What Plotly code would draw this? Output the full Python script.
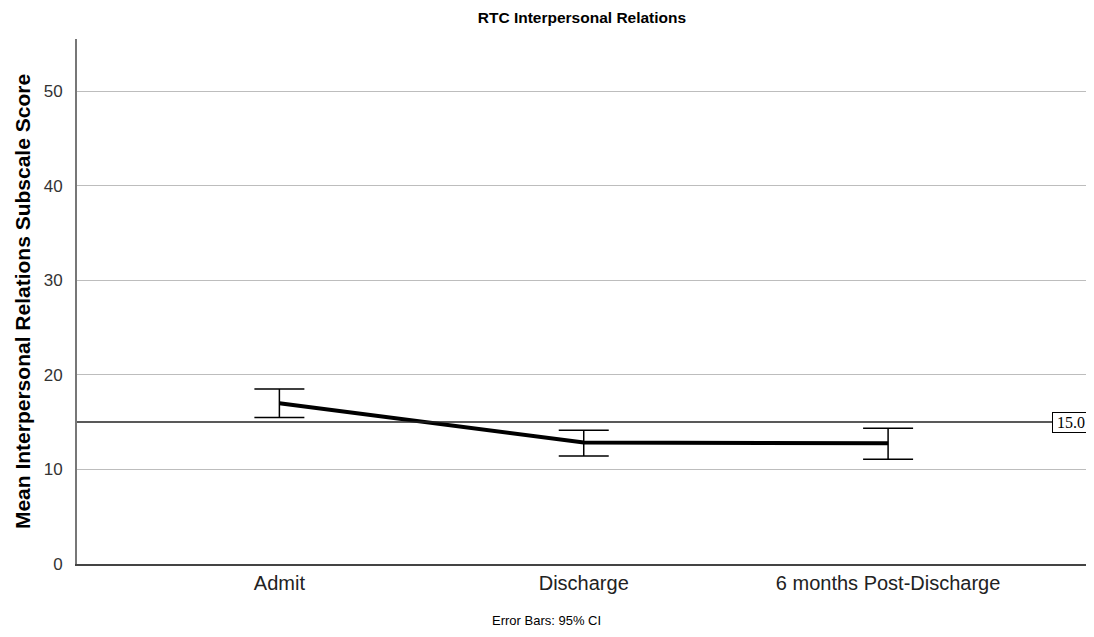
import plotly.graph_objects as go

categories = ["Admit", "Discharge", "6 months Post-Discharge"]
means = [17.0, 12.84, 12.77]
ci_upper = [18.49, 14.14, 14.36]
ci_lower = [15.48, 11.43, 11.08]
reference_value = 15.0
y_ticks = [0, 10, 20, 30, 40, 50]

err_plus = [u - m for u, m in zip(ci_upper, means)]
err_minus = [m - l for m, l in zip(means, ci_lower)]
xpos = list(range(len(categories)))

# page body has an 8px default margin; figure is sized to fill the rest of the window
W, H = 1086, 629

fig = go.Figure()
fig.add_trace(go.Scatter(
    x=xpos, y=means, mode="lines",
    line=dict(color="black", width=4),
    error_y=dict(type="data", symmetric=False, array=err_plus, arrayminus=err_minus,
                 color="black", thickness=1.5, width=25),
    showlegend=False, hoverinfo="skip",
))

fig.add_shape(type="line", xref="paper", yref="y", x0=0, x1=1,
              y0=reference_value, y1=reference_value,
              line=dict(color="#222222", width=1.5), layer="above")
fig.add_annotation(xref="paper", yref="y", x=0.998, y=reference_value,
                   text=f"{reference_value:.1f}", showarrow=False,
                   xanchor="right", yanchor="middle", width=36, height=19,
                   font=dict(family="Liberation Serif, Times New Roman, serif", size=16, color="black"),
                   bgcolor="white", bordercolor="black", borderwidth=1, borderpad=0)

fig.add_annotation(xref="paper", yref="paper", x=0.463, y=-0.1067,
                   text="Error Bars: 95% CI", showarrow=False,
                   xanchor="center", yanchor="middle",
                   font=dict(family="Liberation Sans, Arial", size=13, color="black"))

fig.update_layout(
    width=W, height=H,
    margin=dict(l=69, r=2, t=31, b=73, autoexpand=False),
    plot_bgcolor="white", paper_bgcolor="white",
    title=dict(text="<b>RTC Interpersonal Relations</b>", x=0.5285, xanchor="center",
               y=1 - 9.5 / H, yref="container", yanchor="middle",
               font=dict(family="Liberation Sans, Arial", size=15.5, color="black")),
    xaxis=dict(range=[-0.665, 2.67], tickmode="array", tickvals=xpos, ticktext=categories,
               showgrid=False, zeroline=False, showline=True, linecolor="#444444", linewidth=2,
               ticks="", ticklen=0, automargin=False,
               tickfont=dict(family="Liberation Sans, Arial", size=20, color="#222222")),
    yaxis=dict(range=[0, 55.5], tickmode="array", tickvals=y_ticks, automargin=False,
               showgrid=True, gridcolor="#bdbdbd", gridwidth=1, zeroline=False,
               showline=True, linecolor="#777777", linewidth=2, ticks="outside", ticklen=9, tickcolor="white",
               tickfont=dict(family="Liberation Sans, Arial", size=17, color="#333333"),
               title=dict(text="<b>Mean Interpersonal Relations Subscale Score</b>", standoff=7,
                          font=dict(family="Liberation Sans, Arial", size=21, color="black"))),
)

fig.write_html("out.html")
